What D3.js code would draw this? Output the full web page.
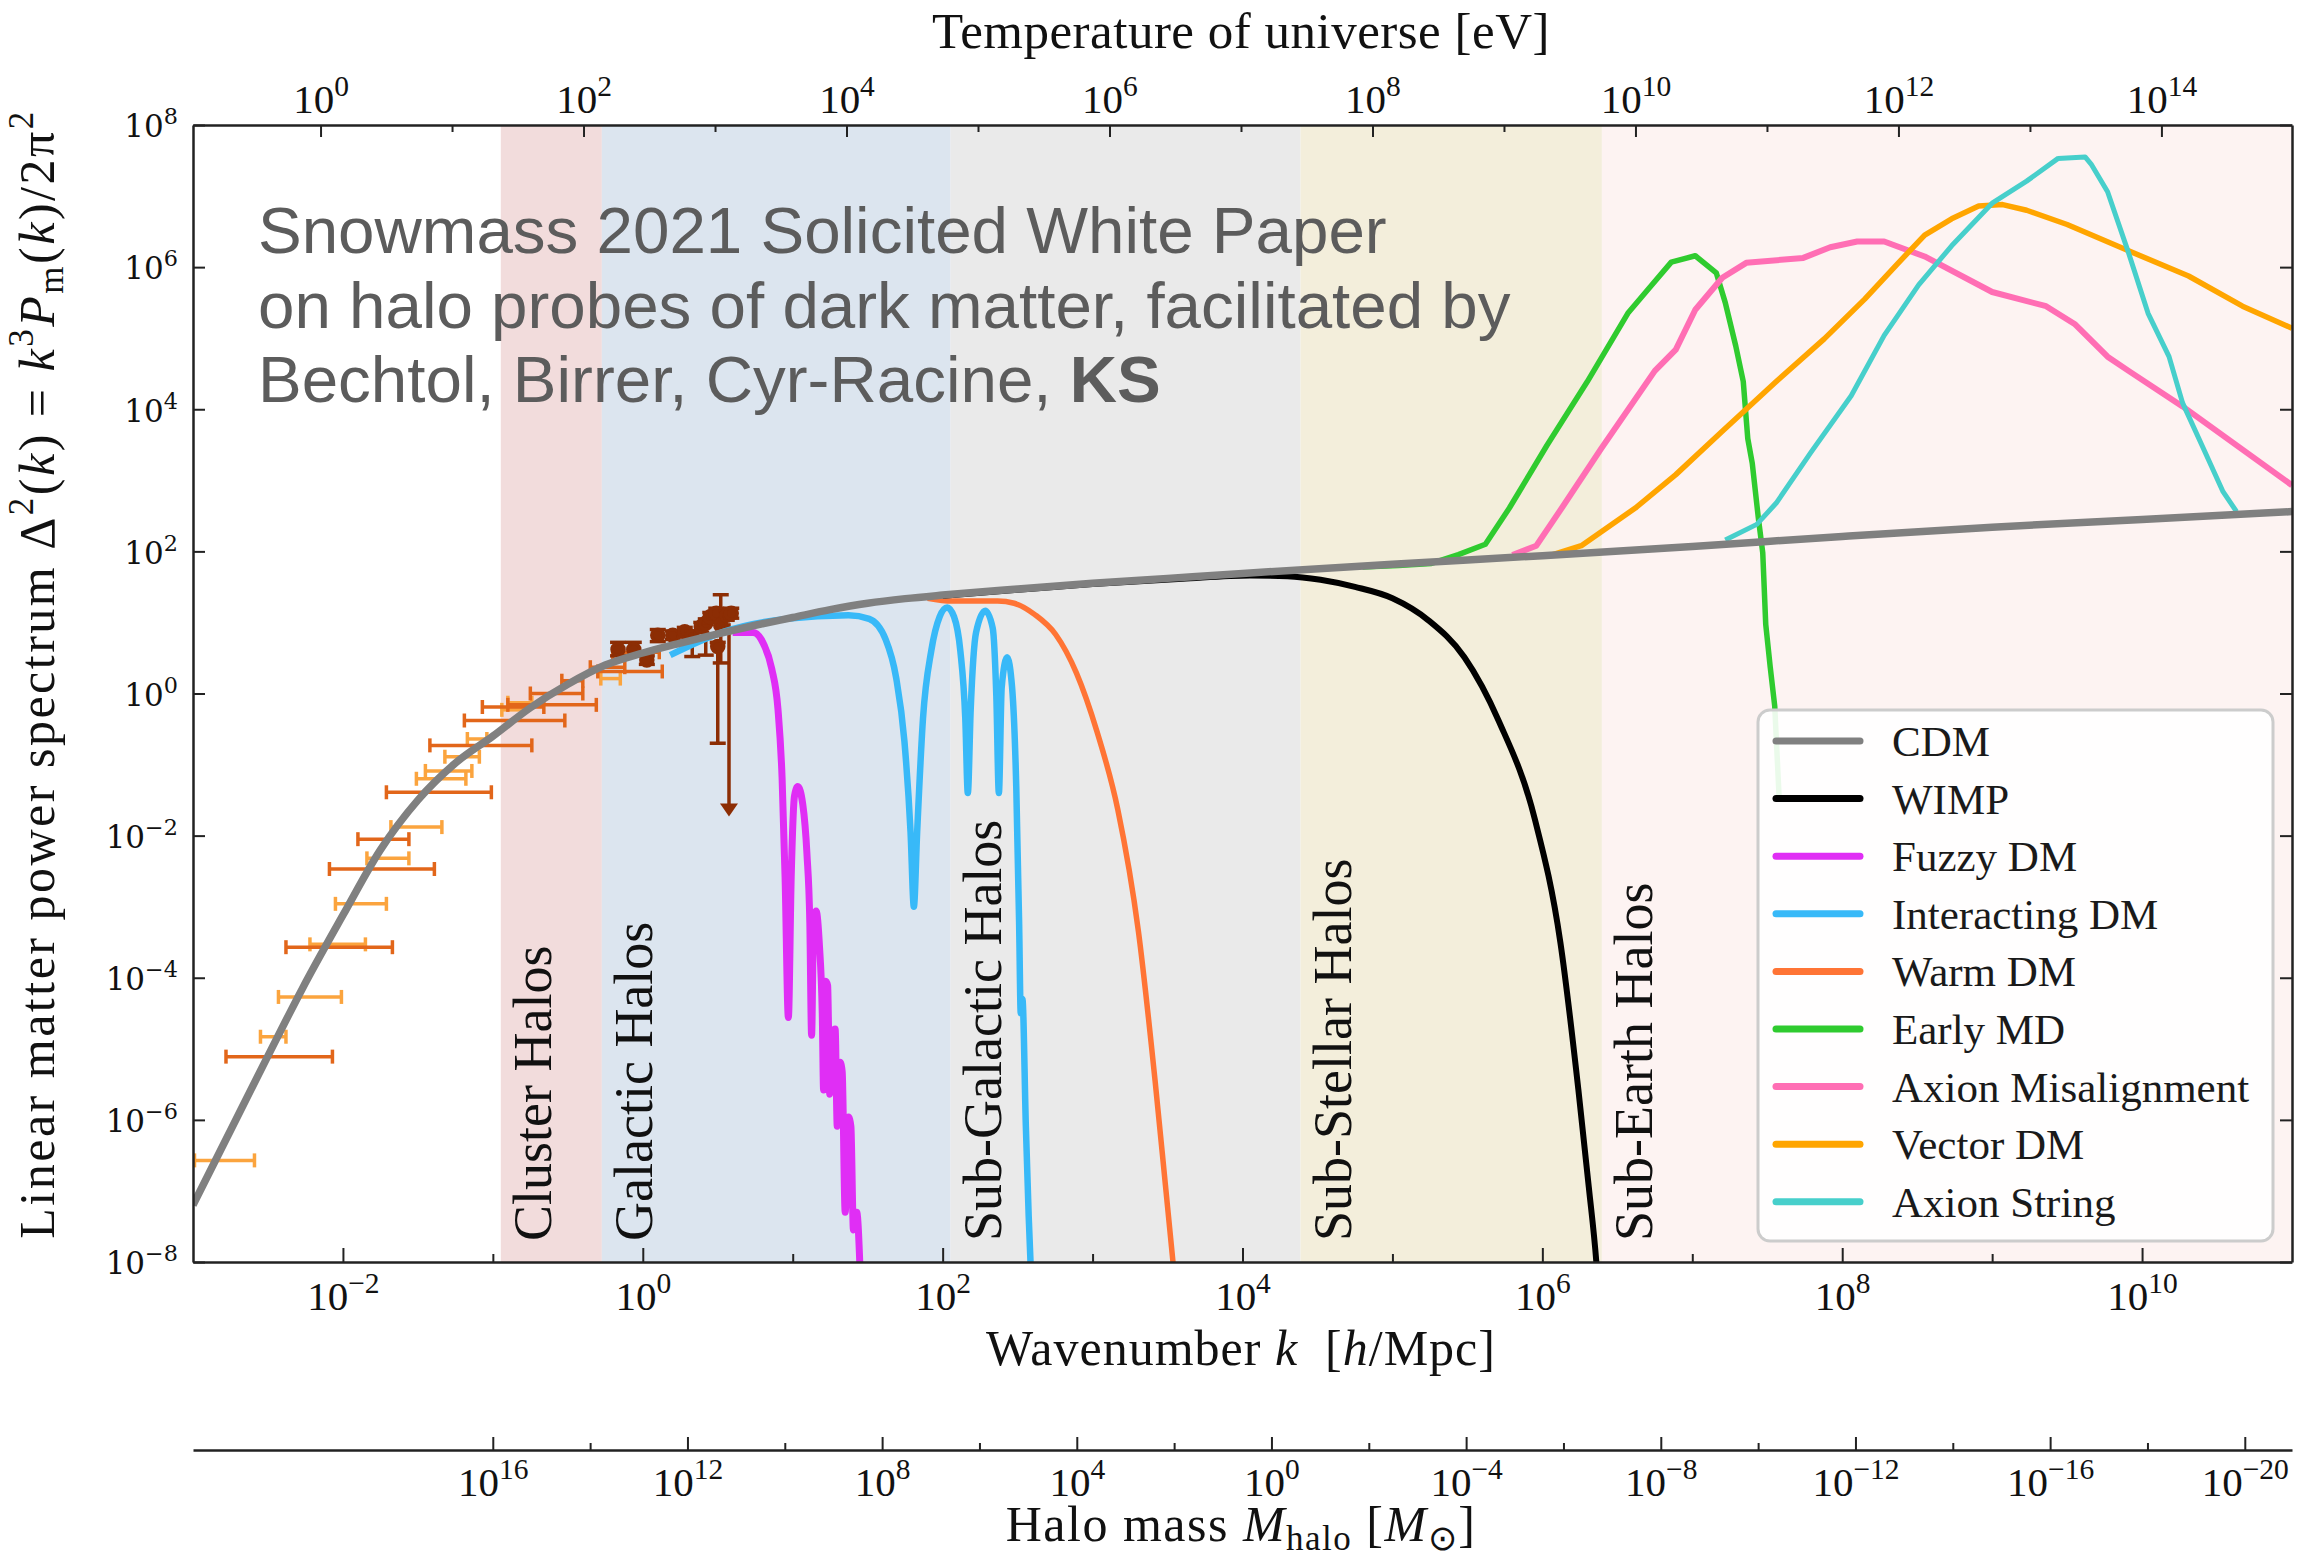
<!DOCTYPE html>
<html>
<head>
<meta charset="utf-8">
<script src="https://cdn.jsdelivr.net/npm/d3@7"></script>
<style>
  body { margin: 0; background: #fff; }
  text { white-space: pre; }
</style>
</head>
<body>
<svg id="chart" width="2322" height="1562"></svg>
<script>
// ---- data (all values as log10) ----
var bandNames = ["Cluster Halos", "Galactic Halos", "Sub-Galactic Halos", "Sub-Stellar Halos", "Sub-Earth Halos"];
var bandEdges = [-0.947, -0.273, 2.053, 4.387, 6.397, 11];

var seriesNames = ["CDM", "WIMP", "Fuzzy DM", "Interacting DM", "Warm DM", "Early MD", "Axion Misalignment", "Vector DM", "Axion String"];

// [log10 k, log10 Delta^2]
var cdm = [[-3.0,-7.2],[-2.75,-6.15],[-2.5,-5.1],[-2.27,-4.15],[-2.0,-3.12],[-1.75,-2.2],[-1.5,-1.5],[-1.25,-0.98],[-1.0,-0.6],[-0.75,-0.2],[-0.5,0.13],[-0.25,0.4],[0,0.57],[0.25,0.71],[0.5,0.84],[0.75,0.96],[1.0,1.07],[1.25,1.18],[1.5,1.27],[1.75,1.335],[2.0,1.385],[2.5,1.47],[3.0,1.55],[3.5,1.62],[4.0,1.69],[5.0,1.82],[6.0,1.94],[7.0,2.07],[8.0,2.21],[9.0,2.34],[10.0,2.45],[11.0,2.56]];
var wimp = [[2.0,1.375],[2.5,1.46],[3.0,1.54],[3.6,1.615],[4.05,1.66],[4.3,1.65],[4.52,1.6],[4.75,1.5],[5.0,1.34],[5.24,1.03],[5.48,0.51],[5.71,-0.39],[5.95,-1.77],[6.12,-3.5],[6.24,-5.57],[6.31,-6.95],[6.36,-8.0],[6.38,-8.6]];
var fuzzy = [[0.6,0.86],[0.736,0.86],[0.805,0.7],[0.86,0.35],[0.902,-0.23],[0.929,-1.18],[0.949,-2.58],[0.971,-4.56],[0.99,-2.58],[1.012,-1.44],[1.034,-1.31],[1.067,-1.56],[1.095,-2.26],[1.114,-3.22],[1.126,-4.81],[1.139,-3.22],[1.156,-3.06],[1.178,-3.54],[1.197,-4.5],[1.206,-5.58],[1.22,-4.05],[1.233,-4.11],[1.247,-5.64],[1.267,-4.75],[1.283,-4.72],[1.297,-6.09],[1.316,-5.19],[1.33,-5.32],[1.35,-7.3],[1.372,-5.96],[1.388,-6.09],[1.405,-7.55],[1.427,-7.3],[1.449,-8.1]];
var interacting = [[0.183,0.54],[0.542,0.87],[0.957,1.05],[1.372,1.1],[1.51,1.05],[1.62,0.76],[1.69,0.22],[1.745,-0.67],[1.786,-1.95],[1.808,-3.0],[1.83,-1.95],[1.869,-0.35],[1.924,0.6],[1.98,1.08],[2.03,1.21],[2.076,1.08],[2.118,0.6],[2.151,-0.35],[2.168,-1.4],[2.187,-0.23],[2.223,0.86],[2.284,1.165],[2.334,0.92],[2.358,-0.03],[2.375,-1.4],[2.394,0.09],[2.43,0.51],[2.463,0.09],[2.491,-1.31],[2.51,-3.22],[2.521,-4.5],[2.532,-4.3],[2.555,-6.09],[2.574,-7.36],[2.588,-8.1]];
var warm = [[1.9,1.34],[2.063,1.3],[2.367,1.3],[2.477,1.27],[2.615,1.11],[2.754,0.83],[2.892,0.29],[3.03,-0.54],[3.168,-1.63],[3.306,-3.35],[3.417,-5.45],[3.486,-6.92],[3.541,-8.1]];
var earlyMD = [[4.8,1.78],[5.04,1.8],[5.26,1.83],[5.44,1.955],[5.62,2.1],[5.78,2.61],[6.03,3.49],[6.3,4.39],[6.57,5.35],[6.71,5.7],[6.86,6.07],[7.02,6.16],[7.16,5.92],[7.22,5.5],[7.29,4.89],[7.34,4.39],[7.37,3.59],[7.4,3.24],[7.44,2.48],[7.47,1.98],[7.49,0.97],[7.52,0.37],[7.55,-0.18],[7.58,-1.5]];
var axionMis = [[5.8,1.95],[5.96,2.08],[6.12,2.58],[6.39,3.44],[6.75,4.54],[6.89,4.84],[7.02,5.4],[7.2,5.85],[7.36,6.06],[7.74,6.13],[7.92,6.28],[8.1,6.36],[8.28,6.36],[8.55,6.15],[9.0,5.65],[9.36,5.45],[9.55,5.2],[9.77,4.74],[9.91,4.54],[10.27,4.04],[11.0,2.93]];
var vectorDM = [[6.07,1.955],[6.26,2.08],[6.62,2.61],[6.89,3.08],[7.2,3.69],[7.56,4.39],[7.88,4.99],[8.15,5.55],[8.37,6.05],[8.55,6.45],[8.73,6.68],[8.91,6.86],[9.07,6.88],[9.23,6.8],[9.5,6.6],[9.91,6.23],[10.31,5.875],[10.67,5.45],[11.0,5.14]];
var axionString = [[7.22,2.16],[7.43,2.38],[7.56,2.68],[7.79,3.39],[8.06,4.19],[8.28,5.04],[8.51,5.75],[8.73,6.3],[9.0,6.9],[9.23,7.21],[9.44,7.53],[9.62,7.55],[9.66,7.45],[9.77,7.06],[9.91,6.2],[10.04,5.35],[10.18,4.74],[10.27,4.09],[10.4,3.49],[10.54,2.84],[10.63,2.56]];

// measurements: [log k lo, log k hi, log Delta^2]
var lightPts = [[-2.99,-2.59,-6.57],[-2.55,-2.38,-4.83],[-2.43,-2.01,-4.27],[-2.22,-1.85,-3.53],[-2.05,-1.71,-2.96],[-1.84,-1.56,-2.32],[-1.68,-1.34,-1.88],[-1.51,-1.18,-1.2],[-1.45,-1.14,-1.09],[-1.32,-1.09,-0.89],[-1.17,-1.04,-0.64],[-0.94,-0.81,-0.23],[-0.9,-0.74,-0.13],[-0.28,-0.15,0.21]];
var darkPts = [[-2.78,-2.07,-5.11],[-2.38,-1.67,-3.57],[-2.09,-1.39,-2.47],[-1.9,-1.56,-2.05],[-1.71,-1.01,-1.39],[-1.42,-0.74,-0.73],[-1.19,-0.52,-0.38],[-1.07,-0.66,-0.19],[-0.9,-0.31,-0.16],[-0.75,-0.4,0.0],[-0.54,-0.4,0.18],[-0.3,0.13,0.31],[-0.35,-0.12,0.37],[-0.2,0.11,0.58]];
// [log k, log Delta^2, log lo, log hi]
var brownPts = [[-0.165,0.62,0.53,0.72],[-0.06,0.62,0.53,0.72],[0.027,0.47,0.41,0.53],[0.1,0.82,0.73,0.9],[0.2,0.82,0.76,0.88],[0.28,0.87,0.8,0.93],[0.33,0.8,0.52,0.88],[0.39,0.94,0.86,1.0],[0.42,0.99,0.54,1.05],[0.45,1.08,1.0,1.14],[0.49,1.13,1.06,1.2],[0.52,0.96,0.43,1.39],[0.5,0.66,-0.7,0.72],[0.56,1.1,1.03,1.16],[0.59,1.13,1.06,1.2]];
// upper limit: [log k, log top, log arrow tip]
var brownLimit = [[0.575,0.99,-1.73]];

var xTickPowers = [-2, 0, 2, 4, 6, 8, 10];
var xMinorPowers = [-1, 1, 3, 5, 7, 9];
var yTickPowers = [-8, -6, -4, -2, 0, 2, 4, 6, 8];
var tTickPowers = [0, 2, 4, 6, 8, 10, 12, 14];
var tMinorPowers = [1, 3, 5, 7, 9, 11, 13];
var mTickPowers = [16, 12, 8, 4, 0, -4, -8, -12, -16, -20];
var mMinorPowers = [14, 10, 6, 2, -2, -6, -10, -14, -18];

var noteLines = ["Snowmass 2021 Solicited White Paper", "on halo probes of dark matter, facilitated by", "Bechtol, Birrer, Cyr-Racine, "];
var noteBold = "KS";

// ---- styles ----
var bandFills = ["#f2dcdc", "#dce5ef", "#eaeaea", "#f3eedb", "#fdf3f2"];
var seriesColors = ["#808080", "#000000", "#e02ef5", "#38b9f8", "#ff7435", "#2fcb2f", "#ff6eb4", "#ffa500", "#47cfcb"];
var seriesWidths = [7.5, 6, 7, 6.5, 5.5, 5.5, 6, 5.5, 5];
var serif = "'Liberation Serif', 'Times New Roman', serif";

var plotL = 193, plotR = 2292, plotT = 125, plotB = 1262;
var p10 = function(v){ return Math.pow(10, v); };

var x = d3.scaleLog().domain([1e-3, 1e11]).range([plotL, plotR]);
var y = d3.scaleLog().domain([1e-8, 1e8]).range([plotB, plotT]);
var tScale = d3.scaleLog().domain([p10(-0.97), p10(14.993)]).range([plotL, plotR]);
var mScale = d3.scaleLog().domain([p10(22.16), p10(-20.97)]).range([plotL, plotR]);

var svg = d3.select("#chart");

svg.append("clipPath").attr("id", "plotclip")
  .append("rect").attr("x", plotL).attr("y", plotT).attr("width", plotR - plotL).attr("height", plotB - plotT);

var plot = svg.append("g").attr("clip-path", "url(#plotclip)");

// bands
plot.selectAll("rect.band")
  .data(bandNames)
  .enter()
  .append("rect")
  .attr("class", "band")
  .attr("x", function(d, i){ return x(p10(bandEdges[i])); })
  .attr("y", plotT)
  .attr("width", function(d, i){ return x(p10(bandEdges[i+1])) - x(p10(bandEdges[i])); })
  .attr("height", plotB - plotT)
  .attr("fill", function(d, i){ return bandFills[i]; });

// rich text helper
var rich = function(sel, parts, size){
  var shift = 0;
  parts.forEach(function(p){
    var ts = sel.append("tspan").text(p[0]);
    var target = p[1] == "sup" ? -0.42 * size : (p[1] == "sub" ? 0.18 * size : 0);
    if (target !== shift) { ts.attr("dy", target - shift); shift = target; }
    if (p[1] == "sup" || p[1] == "sub") ts.attr("font-size", 0.7 * size);
    if (p[1] == "i") ts.attr("font-style", "italic");
    if (p[1] == "b") ts.attr("font-weight", "bold");
  });
};

// band labels
plot.selectAll("text.bandlabel")
  .data(bandNames)
  .enter()
  .append("text")
  .attr("class", "bandlabel")
  .attr("transform", function(d, i){ return "translate(" + (x(p10(bandEdges[i])) + 50) + "," + 1241 + ") rotate(-90)"; })
  .attr("font-family", serif)
  .attr("font-size", 54)
  .attr("fill", "#111")
  .text(function(d){ return d; });

// annotation
var note = svg.append("g")
  .attr("font-family", "'Liberation Sans', Arial, sans-serif")
  .attr("font-size", 65.5)
  .attr("fill", "#5c5c5c");
noteLines.forEach(function(l, i){
  var t = note.append("text").attr("x", 258).attr("y", 253 + i * 74.5);
  if (i < 2) t.text(l);
  else rich(t, [[l, ""], [noteBold, "b"]], 65.5);
});

// data points
var hbar = function(data, color){
  var g = plot.append("g").attr("stroke", color).attr("stroke-width", 3.5);
  data.forEach(function(d){
    var x0 = x(p10(d[0])), x1 = x(p10(d[1])), yy = y(p10(d[2]));
    g.append("line").attr("x1", x0).attr("x2", x1).attr("y1", yy).attr("y2", yy);
    g.append("line").attr("x1", x0).attr("x2", x0).attr("y1", yy - 7).attr("y2", yy + 7);
    g.append("line").attr("x1", x1).attr("x2", x1).attr("y1", yy - 7).attr("y2", yy + 7);
  });
};
hbar(lightPts, "#fba43e");
hbar(darkPts, "#e2661a");

var brown = "#8c2d04";
var gb = plot.append("g").attr("stroke", brown).attr("stroke-width", 3.5);
brownPts.forEach(function(d){
  var xx = x(p10(d[0])), y0 = y(p10(d[2])), y1 = y(p10(d[3]));
  gb.append("line").attr("x1", xx).attr("x2", xx).attr("y1", y0).attr("y2", y1);
  gb.append("line").attr("x1", xx - 8).attr("x2", xx + 8).attr("y1", y0).attr("y2", y0);
  gb.append("line").attr("x1", xx - 8).attr("x2", xx + 8).attr("y1", y1).attr("y2", y1);
  gb.append("circle").attr("cx", xx).attr("cy", y(p10(d[1]))).attr("r", 6).attr("fill", brown);
});
brownLimit.forEach(function(d){
  var xx = x(p10(d[0])), y0 = y(p10(d[1])), y1 = y(p10(d[2]));
  gb.append("line").attr("x1", xx).attr("x2", xx).attr("y1", y0).attr("y2", y1 - 10);
  gb.append("path").attr("d", "M" + (xx - 9) + "," + (y1 - 13) + "L" + (xx + 9) + "," + (y1 - 13) + "L" + xx + "," + y1 + "Z")
    .attr("fill", brown).attr("stroke", "none");
});

// curves
var smooth = d3.line()
  .x(function(d){ return x(p10(d[0])); })
  .y(function(d){ return y(p10(d[1])); })
  .curve(d3.curveMonotoneX);
var straight = d3.line()
  .x(function(d){ return x(p10(d[0])); })
  .y(function(d){ return y(p10(d[1])); });

var curveData = [cdm, wimp, fuzzy, interacting, warm, earlyMD, axionMis, vectorDM, axionString];
var drawOrder = [2, 3, 4, 5, 6, 7, 8, 1, 0];
drawOrder.forEach(function(i){
  plot.append("path")
    .datum(curveData[i])
    .attr("d", i >= 5 ? straight : smooth)
    .attr("fill", "none")
    .attr("stroke", seriesColors[i])
    .attr("stroke-width", seriesWidths[i])
    .attr("stroke-linejoin", "round");
});

// axes
var expStr = function(d){
  var e = Math.round(Math.log10(d));
  return e < 0 ? "\u2212" + (-e) : "" + e;
};
var supLabels = function(g, size){
  g.selectAll(".tick text").each(function(d){
    var t = d3.select(this);
    t.text(null);
    t.append("tspan").text("10");
    t.append("tspan").attr("font-size", size * 0.72).attr("dy", -size * 0.42).text(expStr(d));
  });
};
var styleAxis = function(g){
  g.select(".domain").attr("stroke", "#222").attr("stroke-width", 2.5);
  g.selectAll(".tick line").attr("stroke", "#222").attr("stroke-width", 2);
};

// bottom k axis
var gx = svg.append("g").attr("transform", "translate(0," + plotB + ")")
  .call(d3.axisBottom(x).tickValues(xTickPowers.map(p10)).tickSizeInner(-14).tickSizeOuter(0).tickPadding(48).tickFormat(""));
gx.attr("font-family", serif).attr("font-size", 41);
gx.selectAll(".tick text").attr("dy", 0).attr("fill", "#111");
supLabels(gx, 41);
styleAxis(gx);
var gx2 = svg.append("g").attr("transform", "translate(0," + plotB + ")")
  .call(d3.axisBottom(x).tickValues(xMinorPowers.map(p10)).tickSizeInner(-8).tickSizeOuter(0).tickFormat(""));
gx2.select(".domain").remove();
styleAxis(gx2);

// top temperature axis
var gt = svg.append("g").attr("transform", "translate(0," + plotT + ")")
  .call(d3.axisTop(tScale).tickValues(tTickPowers.map(p10)).tickSizeInner(-12).tickSizeOuter(0).tickPadding(12).tickFormat(""));
gt.attr("font-family", serif).attr("font-size", 41);
gt.selectAll(".tick text").attr("dy", 0).attr("fill", "#111");
supLabels(gt, 41);
styleAxis(gt);
var gt2 = svg.append("g").attr("transform", "translate(0," + plotT + ")")
  .call(d3.axisTop(tScale).tickValues(tMinorPowers.map(p10)).tickSizeInner(-7).tickSizeOuter(0).tickFormat(""));
gt2.select(".domain").remove();
styleAxis(gt2);

// left / right y axes
var gy = svg.append("g").attr("transform", "translate(" + plotL + ",0)")
  .call(d3.axisLeft(y).tickValues(yTickPowers.map(p10)).tickSizeInner(-12).tickSizeOuter(0).tickPadding(15).tickFormat(""));
gy.attr("font-family", "'DejaVu Serif', serif").attr("font-size", 31);
gy.selectAll(".tick text").attr("dy", "0.38em").attr("fill", "#111");
supLabels(gy, 31);
styleAxis(gy);
var gyr = svg.append("g").attr("transform", "translate(" + plotR + ",0)")
  .call(d3.axisRight(y).tickValues(yTickPowers.map(p10)).tickSizeInner(-12).tickSizeOuter(0).tickFormat(""));
gyr.selectAll(".tick text").remove();
styleAxis(gyr);

// halo mass axis
var massY = 1450;
var gm = svg.append("g").attr("transform", "translate(0," + massY + ")")
  .call(d3.axisBottom(mScale).tickValues(mTickPowers.map(p10)).tickSizeInner(-13).tickSizeOuter(0).tickPadding(46).tickFormat(""));
gm.attr("font-family", serif).attr("font-size", 41);
gm.selectAll(".tick text").attr("dy", 0).attr("fill", "#111");
supLabels(gm, 41);
styleAxis(gm);
var gm2 = svg.append("g").attr("transform", "translate(0," + massY + ")")
  .call(d3.axisBottom(mScale).tickValues(mMinorPowers.map(p10)).tickSizeInner(-7).tickSizeOuter(0).tickFormat(""));
gm2.select(".domain").remove();
styleAxis(gm2);

// axis titles
var title = function(xx, yy, parts, size, spacing, rot){
  var t = svg.append("text")
    .attr("transform", "translate(" + xx + "," + yy + ")" + (rot ? " rotate(-90)" : ""))
    .attr("text-anchor", "middle")
    .attr("font-family", serif)
    .attr("font-size", size)
    .attr("letter-spacing", spacing)
    .attr("fill", "#111");
  rich(t, parts, size);
};
title(1241, 48, [["Temperature of universe [eV]", ""]], 51, 0.5);
title(1241, 1365, [["Wavenumber ", ""], ["k", "i"], ["  [", ""], ["h", "i"], ["/Mpc]", ""]], 50, 1);
title(1241, 1541, [["Halo mass ", ""], ["M", "i"], ["halo", "sub"], [" [", ""], ["M", "i"], ["\u2299", "sub"], ["]", ""]], 50, 1.5);
title(54, 674, [["Linear matter power spectrum \u0394", ""], ["2", "sup"], ["(", ""], ["k", "i"], [") = ", ""], ["k", "i"], ["3", "sup"], ["P", "i"], ["m", "sub"], ["(", ""], ["k", "i"], [")/2\u03c0", ""], ["2", "sup"]], 50, 2.5, true);

// legend
var lg = svg.append("g");
lg.append("rect")
  .attr("x", 1758).attr("y", 710).attr("width", 515).attr("height", 531)
  .attr("rx", 12)
  .attr("fill", "#fff").attr("fill-opacity", 0.9)
  .attr("stroke", "#cccccc").attr("stroke-width", 3);
var rows = lg.selectAll("g.row")
  .data(seriesNames)
  .enter()
  .append("g")
  .attr("class", "row")
  .attr("transform", function(d, i){ return "translate(0," + (741 + i * 57.6) + ")"; });
rows.append("line")
  .attr("x1", 1776).attr("x2", 1860)
  .attr("stroke", function(d, i){ return seriesColors[i]; })
  .attr("stroke-width", 7)
  .attr("stroke-linecap", "round");
rows.append("text")
  .attr("x", 1892).attr("y", 15)
  .attr("font-family", serif)
  .attr("font-size", 43)
  .attr("fill", "#1a1a1a")
  .text(function(d){ return d; });
</script>
</body>
</html>
